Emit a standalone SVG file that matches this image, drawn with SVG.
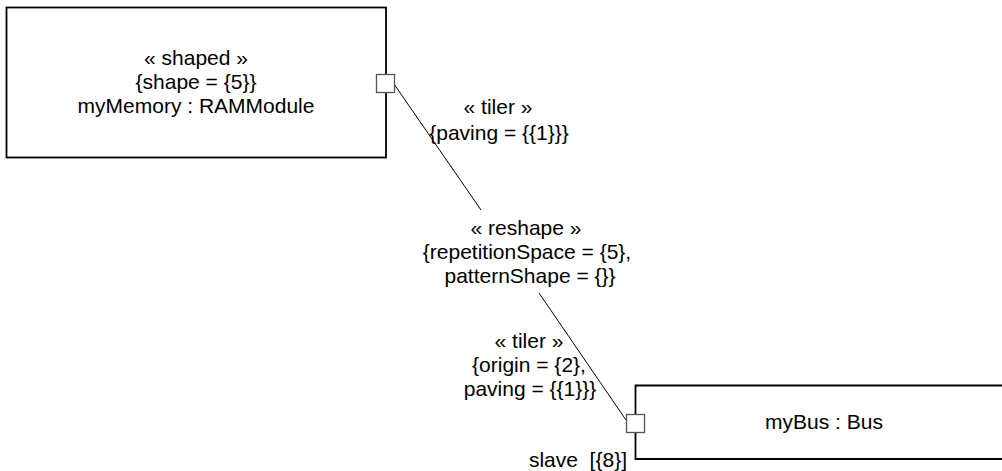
<svg xmlns="http://www.w3.org/2000/svg" width="1002" height="471" viewBox="0 0 1002 471">
<style>
.box{fill:#fff;stroke:#000;stroke-width:1.8}
.port{fill:#fff;stroke:#555;stroke-width:1.3}
.conn{stroke:#000;stroke-width:1;fill:none}
text{font-family:"Liberation Sans",Arial,sans-serif;font-size:21px;fill:#000}
.c{text-anchor:middle}
.r{text-anchor:end}
</style>
<g id="connectors">
<line class="conn" x1="394" y1="84" x2="481" y2="210"/>
<line class="conn" x1="539" y1="293" x2="626" y2="420"/>
</g>
<g id="myMemory">
<rect class="box" x="6.5" y="7.5" width="379.5" height="150"/>
<text class="c" x="196" y="65">« shaped »</text>
<text class="c" x="196" y="89">{shape = {5}}</text>
<text class="c" x="196" y="113">myMemory : RAMModule</text>
<rect class="port" x="376.5" y="74.5" width="18" height="18"/>
</g>
<g id="myBus">
<path class="box" d="M1010,385.5 H635.5 V459 H1010"/>
<text class="c" x="824" y="429">myBus : Bus</text>
<rect class="port" x="626.5" y="414.5" width="18" height="18"/>
<text class="r" x="627" y="467" style="white-space:pre">slave  [{8}]</text>
</g>
<g id="labels">
<text class="c" x="498" y="114">« tiler »</text>
<text class="c" x="499" y="140">{paving = {{1}}}</text>
<text class="c" x="526" y="235">« reshape »</text>
<text class="c" x="527" y="259">{repetitionSpace = {5},</text>
<text class="c" x="530" y="283">patternShape = {}}</text>
<text class="c" x="529" y="348">« tiler »</text>
<text class="c" x="529" y="372">{origin = {2},</text>
<text class="c" x="530" y="396">paving = {{1}}}</text>
</g>
</svg>
